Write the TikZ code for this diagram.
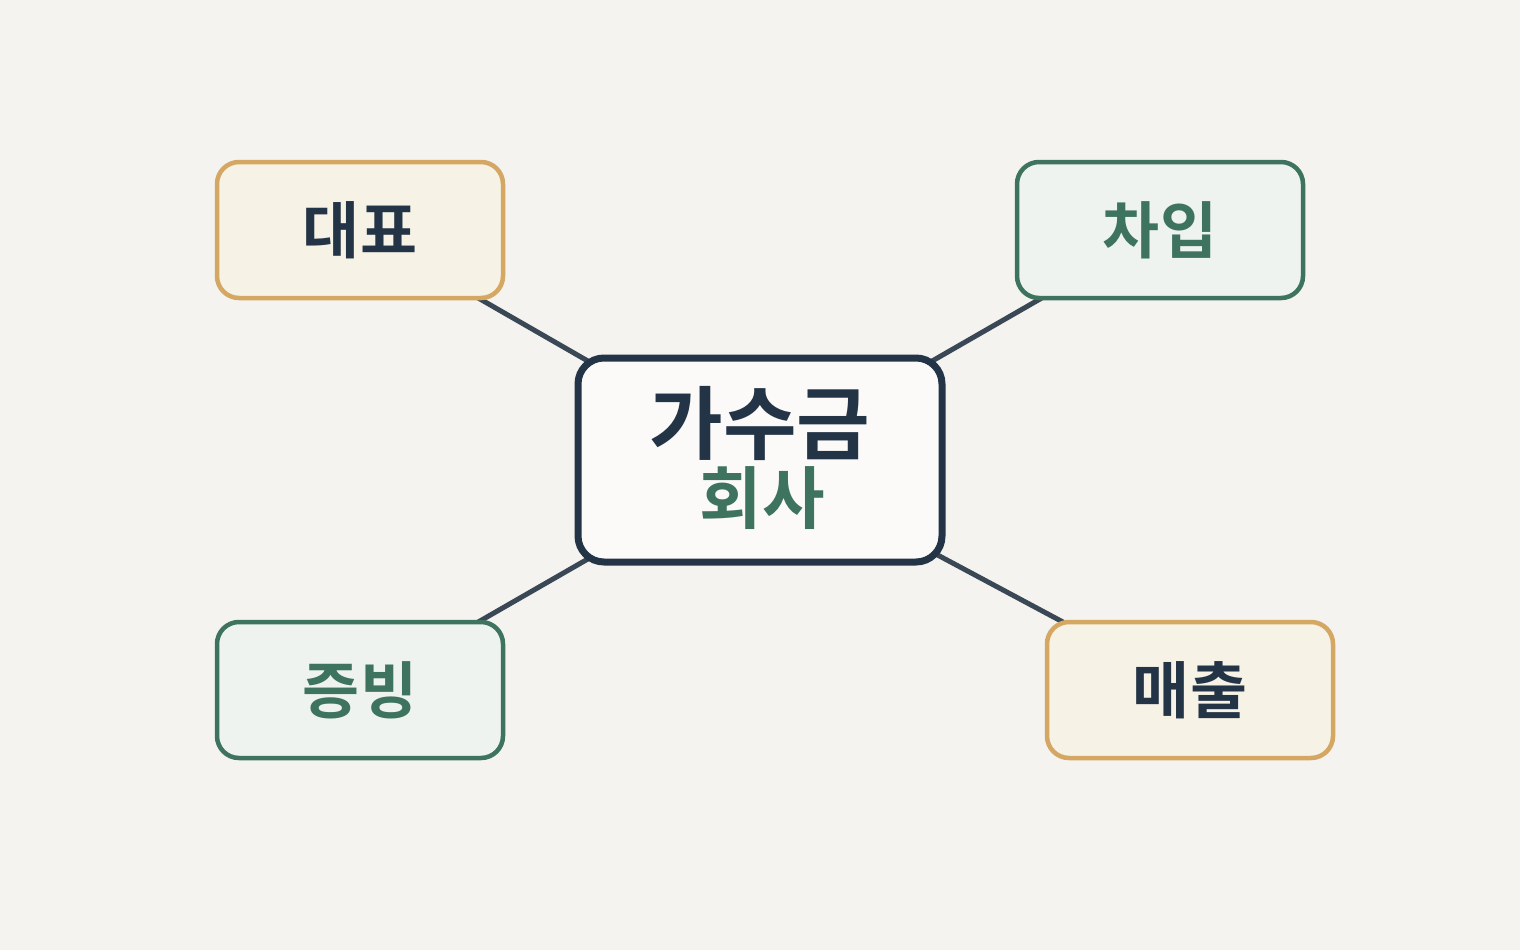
\documentclass[tikz,border=0pt]{standalone}
\usepackage{fontspec}
\newfontfamily\kr{Noto Sans CJK KR}[BoldFont={Noto Sans CJK KR Bold}]
\usetikzlibrary{positioning}
\definecolor{bg}{HTML}{F4F3EF}
\definecolor{ink}{HTML}{243447}
\definecolor{edge}{HTML}{3A4856}
\definecolor{gold}{HTML}{D4A762}
\definecolor{goldfill}{HTML}{F6F2E6}
\definecolor{leaf}{HTML}{3D735F}
\definecolor{leaffill}{HTML}{EEF3EF}
\pgfdeclarelayer{paper}
\pgfdeclarelayer{links}
\pgfsetlayers{paper,links,main}
\tikzset{
  box/.style={draw, rounded corners=22pt, line width=4.5pt,
    minimum width=286pt, minimum height=136pt, font=\kr\bfseries\fontsize{62}{70}\selectfont},
  goldbox/.style={box, draw=gold, fill=goldfill, text=ink},
  leafbox/.style={box, draw=leaf, fill=leaffill, text=leaf},
  link/.style={draw=edge, line width=5pt}
}
\begin{document}
\begin{tikzpicture}[x=1pt, y=-1pt]
  \begin{pgfonlayer}{paper}
    \fill[bg] (0,0) rectangle (1520,950);
  \end{pgfonlayer}
  \node[draw=ink, fill=white!60!bg, rounded corners=26pt, line width=7pt,
        minimum width=364pt, minimum height=204pt] (fund) at (760,460) {};
  \node[font=\kr\bfseries\fontsize{80}{90}\selectfont, text=ink] (fund-top) at (760,423) {가수금};
  \node[font=\kr\bfseries\fontsize{68}{76}\selectfont, text=leaf] (fund-sub) at (762,498) {회사};
  \node[goldbox] (ceo) at (360,230) {대표};
  \node[leafbox] (loan) at (1160,230) {차입};
  \node[leafbox] (proof) at (360,690) {증빙};
  \node[goldbox] (sales) at (1190,690) {매출};
  \begin{pgfonlayer}{links}
    \draw[link] (ceo.center) -- (fund.center);
    \draw[link] (loan.center) -- (fund.center);
    \draw[link] (proof.center) -- (fund.center);
    \draw[link] (sales.center) -- (fund.center);
  \end{pgfonlayer}
\end{tikzpicture}
\end{document}
